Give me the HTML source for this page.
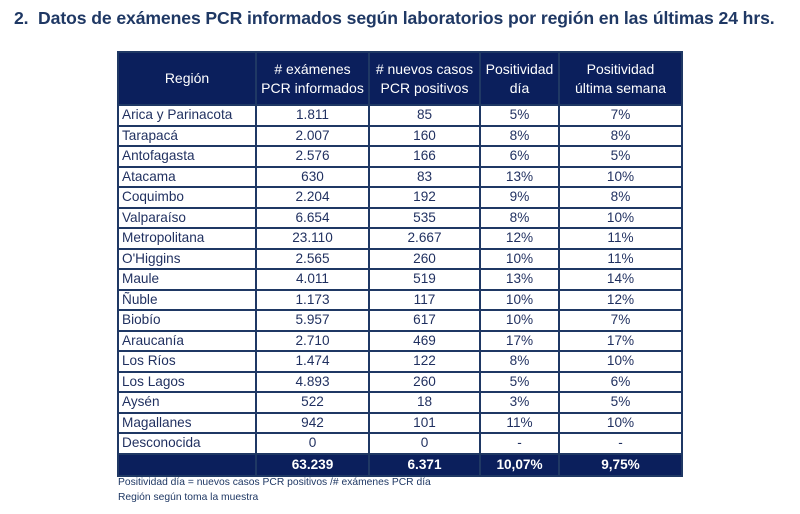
<!DOCTYPE html>
<html><head><meta charset="utf-8"><style>
body{margin:0;background:#fff;width:800px;height:514px;position:relative;font-family:"Liberation Sans",sans-serif;overflow:hidden}
h1{position:absolute;left:14px;top:8px;margin:0;font-size:17.6px;font-weight:bold;color:#1f3864;white-space:nowrap;letter-spacing:-0.1px}
table{position:absolute;left:117px;top:51px;border-collapse:collapse;color:#1f2f5f;font-size:13.6px}
td,th{border:2px solid #1f3864;padding:0;height:18.5px;line-height:16px;text-align:center}
th{background:#0b1f5c;color:#fff;font-weight:normal;height:51px;line-height:19px;font-size:14px}
td:first-child{text-align:left;padding-left:3px}
tr.tot td{background:#0b1f5c;color:#fff;font-weight:bold;height:20px}
.note{position:absolute;left:118px;font-size:10.3px;color:#1f3864}
</style></head><body>
<h1>2.&nbsp; Datos de exámenes PCR informados según laboratorios por región en las últimas 24 hrs.</h1>
<table>
<colgroup><col style="width:138px"><col style="width:113px"><col style="width:111px"><col style="width:79px"><col style="width:123px"></colgroup>
<tr><th style="text-align:center;padding:0">Región</th><th># exámenes<br>PCR informados</th><th># nuevos casos<br>PCR positivos</th><th>Positividad<br>día</th><th>Positividad<br>última semana</th></tr>
<tr><td>Arica y Parinacota</td><td>1.811</td><td>85</td><td>5%</td><td>7%</td></tr>
<tr><td>Tarapacá</td><td>2.007</td><td>160</td><td>8%</td><td>8%</td></tr>
<tr><td>Antofagasta</td><td>2.576</td><td>166</td><td>6%</td><td>5%</td></tr>
<tr><td>Atacama</td><td>630</td><td>83</td><td>13%</td><td>10%</td></tr>
<tr><td>Coquimbo</td><td>2.204</td><td>192</td><td>9%</td><td>8%</td></tr>
<tr><td>Valparaíso</td><td>6.654</td><td>535</td><td>8%</td><td>10%</td></tr>
<tr><td>Metropolitana</td><td>23.110</td><td>2.667</td><td>12%</td><td>11%</td></tr>
<tr><td>O'Higgins</td><td>2.565</td><td>260</td><td>10%</td><td>11%</td></tr>
<tr><td>Maule</td><td>4.011</td><td>519</td><td>13%</td><td>14%</td></tr>
<tr><td>Ñuble</td><td>1.173</td><td>117</td><td>10%</td><td>12%</td></tr>
<tr><td>Biobío</td><td>5.957</td><td>617</td><td>10%</td><td>7%</td></tr>
<tr><td>Araucanía</td><td>2.710</td><td>469</td><td>17%</td><td>17%</td></tr>
<tr><td>Los Ríos</td><td>1.474</td><td>122</td><td>8%</td><td>10%</td></tr>
<tr><td>Los Lagos</td><td>4.893</td><td>260</td><td>5%</td><td>6%</td></tr>
<tr><td>Aysén</td><td>522</td><td>18</td><td>3%</td><td>5%</td></tr>
<tr><td>Magallanes</td><td>942</td><td>101</td><td>11%</td><td>10%</td></tr>
<tr><td>Desconocida</td><td>0</td><td>0</td><td>-</td><td>-</td></tr>
<tr class="tot"><td></td><td>63.239</td><td>6.371</td><td>10,07%</td><td>9,75%</td></tr>
</table>
<div class="note" style="top:477px">Positividad día = nuevos casos PCR positivos /# exámenes PCR día</div>
<div class="note" style="top:492px">Región según toma la muestra</div>
</body></html>
